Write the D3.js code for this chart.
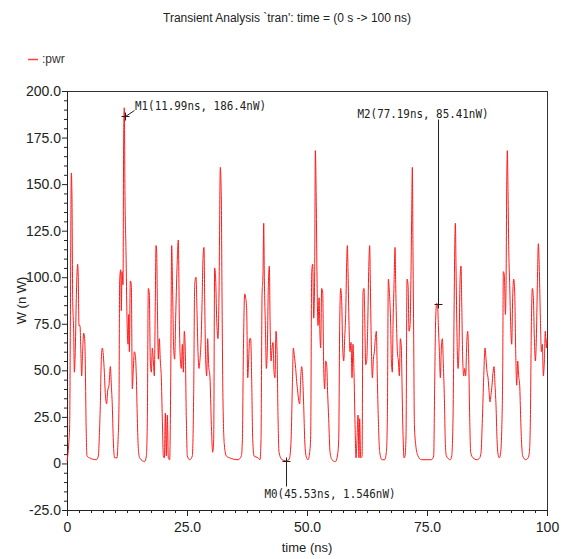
<!DOCTYPE html>
<html>
<head>
<meta charset="utf-8">
<script src="https://cdn.jsdelivr.net/npm/d3@7"></script>
<style>
    body { margin: 0; background: #fff; }
    svg { display: block; font-family: "Liberation Sans", Arial, sans-serif; }
</style>
</head>
<body>
<svg></svg>
<script>
// waveform :pwr (time in ns, power in nW)
var times = [0.00,0.35,0.56,0.69,0.90,1.04,1.18,1.39,1.53,1.74,1.94,2.22,2.36,2.50,2.71,2.85,3.06,3.26,3.47,3.68,3.82,3.96,4.17,4.72,
    6.11,6.53,6.74,6.94,7.15,7.36,7.57,7.78,7.99,8.26,8.47,8.75,9.03,9.24,9.44,9.65,9.93,
    10.42,10.63,10.83,10.97,11.18,11.32,11.46,11.67,11.81,11.94,12.08,12.29,12.50,12.71,12.85,12.99,13.19,13.40,13.61,13.82,14.03,14.24,14.44,14.65,14.86,15.14,
    16.18,16.53,16.74,16.94,17.15,17.36,17.57,17.78,17.99,18.19,18.40,18.54,18.68,18.82,19.03,19.24,19.44,19.65,19.86,
    20.07,20.28,20.49,20.69,20.90,21.11,21.39,21.60,21.81,22.01,22.22,22.43,22.64,22.92,23.19,23.40,23.61,23.82,24.03,24.24,24.44,24.65,24.86,
    25.07,25.56,26.11,26.39,26.60,26.88,27.08,27.29,27.50,27.71,27.92,28.13,28.33,28.54,28.68,28.89,29.10,29.31,29.51,29.79,
    30.07,30.35,30.56,30.76,30.97,31.18,31.46,31.67,31.94,32.15,32.29,32.50,32.78,33.19,33.89,35.63,
    36.33,36.54,36.74,37.02,37.23,37.44,37.65,37.85,38.06,38.27,38.48,38.69,38.97,39.80,
    40.22,40.42,40.63,40.84,40.98,41.12,41.33,41.53,41.74,41.95,42.16,42.30,42.51,42.72,42.92,43.13,43.33,43.54,43.76,43.97,44.17,44.80,
    45.53,46.26,46.53,46.74,46.95,47.16,47.36,47.64,47.85,48.05,48.26,48.48,48.69,48.90,49.10,49.31,49.52,49.80,
    50.22,50.56,50.77,50.98,51.19,51.40,51.60,51.74,51.95,52.09,52.30,52.51,52.72,52.85,53.06,53.27,53.48,53.69,53.88,54.10,54.31,54.52,54.80,
    55.21,55.91,56.33,56.61,56.81,57.02,57.23,57.44,57.65,57.85,58.06,58.27,58.41,58.55,58.76,58.96,59.17,59.38,59.58,59.79,
    60.01,60.21,60.42,60.63,60.83,60.97,61.19,61.47,61.67,61.88,62.02,62.23,62.44,62.65,62.85,63.06,63.20,63.41,63.62,63.83,64.03,64.24,64.45,64.65,64.86,
    65.15,65.63,66.19,66.53,66.74,66.95,67.16,67.44,67.58,67.78,67.92,68.13,68.34,68.48,68.62,68.83,69.04,69.24,69.45,69.66,69.80,
    70.01,70.22,70.42,70.63,70.84,71.05,71.26,71.47,71.67,71.81,71.95,72.09,72.23,72.37,72.65,73.13,73.83,
    75.91,76.39,76.60,76.81,77.02,77.19,77.37,77.58,77.78,77.99,78.20,78.41,78.62,78.83,79.04,79.87,
    80.15,80.42,80.63,80.77,80.91,81.05,81.26,81.47,81.67,81.88,82.09,82.23,82.44,82.65,82.85,83.06,83.27,83.48,83.69,83.90,84.10,84.59,
    85.42,85.98,86.26,86.54,86.81,87.09,87.30,87.51,87.72,87.92,88.13,88.34,88.55,88.76,88.97,89.17,89.38,89.59,89.87,
    90.08,90.35,90.56,90.77,90.91,91.12,91.33,91.47,91.61,91.74,91.88,92.02,92.23,92.44,92.65,92.85,93.06,93.27,93.48,93.69,93.90,94.10,94.31,94.52,94.73,94.94,
    95.56,96.05,96.33,96.54,96.74,96.95,97.16,97.37,97.58,97.78,97.99,98.20,98.41,98.62,98.83,99.03,99.24,99.45,99.65,99.87,100];

var pwr = [1,10,21,71,156,142,89,71,49,62,89,107,98,74,74,64,47,60,70,67,53,24,4,3,
    2,4,15,31,56,62,58,49,37,32,39,42,52,42,31,12,3,
    3,12,31,98,104,82,103,96,177,191,144,114,78,64,80,60,98,96,40,51,60,58,47,24,8,3,
    1,4,24,94,91,55,49,62,55,47,87,117,114,87,56,67,55,46,24,
    4,3,27,4,26,3,2,42,117,92,62,56,78,105,120,78,56,51,64,49,71,60,24,
    4,2,4,37,96,100,82,60,51,56,65,85,110,116,89,56,47,67,53,46,
    21,6,13,105,99,78,67,91,159,142,92,33,10,4,3,2,
    4,13,58,91,89,82,46,56,67,67,44,13,4,3,
    2,13,89,103,129,98,74,51,62,96,106,78,55,62,65,49,46,71,60,24,6,2,
    1.5,2,6,17,42,62,58,51,44,39,34,32,46,52,46,31,13,4,
    2,6,15,103,107,78,103,168,135,99,74,89,67,62,94,92,51,40,55,53,37,24,6,
    2,1,4,13,74,94,87,62,55,67,80,108,117,103,74,60,65,46,64,49,
    21,3,13,26,3,24,3,4,92,94,80,53,55,74,103,117,96,62,46,56,60,67,71,46,24,
    6,2,2,6,24,99,92,74,55,49,74,96,116,96,78,60,55,47,67,62,42,
    15,3,4,15,99,96,71,74,103,134,159,110,67,21,10,4,2,
    2,4,42,78,86,85.4,74,60,46,62,67,53,35,10,4,2,
    4,24,78,114,129,105,67,51,62,98,106,87,56,47,51,47,64,71,56,24,6,3,
    2,3,6,24,46,62,56,49,46,39,33,37,42,49,52,42,31,13,4,
    3,6,17,49,103,101,80,96,150,168,146,117,96,74,64,89,99,92,60,42,55,47,42,24,10,4,
    2,3,6,24,74,94,89,67,55,67,96,118,103,78,60,64,47,55,71,62,67];

// markers
var markerNames = ["M0", "M1", "M2"];
var markerTimes = [45.53, 11.99, 77.19];
var markerValues = [1.546, 186.4, 85.41];

// axis ticks
var xTicks = [0, 25, 50, 75, 100];
var xTickLabels = ["0", "25.0", "50.0", "75.0", "100"];
var yTicks = [-25, 0, 25, 50, 75, 100, 125, 150, 175, 200];
var yTickLabels = ["-25.0", "0", "25.0", "50.0", "75.0", "100.0", "125.0", "150.0", "175.0", "200.0"];

var svgWidth = 566, svgHeight = 559;
var margin = {top: 91, left: 67, bottom: 49, right: 19};
var width = svgWidth - margin.left - margin.right;
var height = svgHeight - margin.top - margin.bottom;

var svg = d3.select("svg")
    .attr("width", svgWidth)
    .attr("height", svgHeight);

var x = d3.scaleLinear().domain([0, 100]).range([margin.left, margin.left + width]);
var y = d3.scaleLinear().domain([-25, 200]).range([margin.top + height, margin.top]);

// title + legend
svg.append("text")
    .attr("x", 287)
    .attr("y", 22)
    .attr("text-anchor", "middle")
    .attr("font-size", "12px")
    .attr("fill", "#222")
    .text("Transient Analysis `tran': time = (0 s -> 100 ns)");

svg.append("line")
    .attr("x1", 28).attr("x2", 38)
    .attr("y1", 59.5).attr("y2", 59.5)
    .attr("stroke", "#ff4040")
    .attr("stroke-width", 1.5);

svg.append("text")
    .attr("x", 42)
    .attr("y", 63)
    .attr("font-size", "12px")
    .attr("fill", "#333")
    .text(":pwr");

// frame (top + right)
svg.append("rect")
    .attr("x", margin.left + 0.5)
    .attr("y", margin.top + 0.5)
    .attr("width", width)
    .attr("height", height)
    .attr("fill", "none")
    .attr("stroke", "#333");

// minor ticks
var xMinor = d3.range(0, 100.01, 2.5).filter(function (d) { return xTicks.indexOf(d) < 0; });
var yMinor = d3.range(-25, 200.01, 5).filter(function (d) { return yTicks.indexOf(d) < 0; });

svg.append("g")
    .attr("transform", "translate(0," + (margin.top + height) + ")")
    .call(d3.axisBottom(x).tickValues(xMinor).tickSize(3).tickFormat(""))
    .select(".domain").remove();

svg.append("g")
    .attr("transform", "translate(" + margin.left + ",0)")
    .call(d3.axisLeft(y).tickValues(yMinor).tickSize(3).tickFormat(""))
    .select(".domain").remove();

// major axes
svg.append("g")
    .attr("transform", "translate(0," + (margin.top + height) + ")")
    .call(d3.axisBottom(x).tickValues(xTicks).tickSize(6).tickPadding(6)
        .tickFormat(function (d, i) { return xTickLabels[i]; }));

svg.append("g")
    .attr("transform", "translate(" + margin.left + ",0)")
    .call(d3.axisLeft(y).tickValues(yTicks).tickSize(5).tickPadding(1)
        .tickFormat(function (d, i) { return yTickLabels[i]; }));

svg.selectAll(".tick text")
    .attr("font-family", "\"Liberation Sans\", Arial, sans-serif")
    .attr("font-size", "14px")
    .attr("fill", "#222");
svg.selectAll(".tick line, .domain").attr("stroke", "#222");

// axis titles
svg.append("text")
    .attr("x", x(50))
    .attr("y", 552)
    .attr("text-anchor", "middle")
    .attr("font-size", "13px")
    .attr("fill", "#222")
    .text("time (ns)");

svg.append("text")
    .attr("transform", "translate(26," + y(87.5) + ") rotate(-90)")
    .attr("text-anchor", "middle")
    .attr("font-size", "13px")
    .attr("fill", "#222")
    .text("W (n W)");

// the waveform
var line = d3.line()
    .x(function (i) { return x(times[i]); })
    .y(function (i) { return y(pwr[i]); })
    .curve(d3.curveMonotoneX);

svg.append("path")
    .datum(d3.range(times.length))
    .attr("fill", "none")
    .attr("stroke", "#ff1a1a")
    .attr("stroke-width", 1)
    .attr("stroke-linejoin", "round")
    .attr("d", line);

// markers: crosshair, leader and label
var labelOffset = {M0: [-22, 36.5, 25], M1: [9.5, -7, 0], M2: [-81, -186.5, -185]};

markerNames.forEach(function (name, i) {
    var cx = Math.round(x(markerTimes[i])) + 0.5;
    var cy = Math.round(y(markerValues[i])) + 0.5;
    var off = labelOffset[name];
    var g = svg.append("g").attr("stroke", "#222").attr("stroke-width", 1);

    g.append("line").attr("x1", cx - 4).attr("x2", cx + 4).attr("y1", cy).attr("y2", cy);
    g.append("line").attr("x1", cx).attr("x2", cx).attr("y1", cy - 4).attr("y2", cy + 4);

    if (name == "M1") {
        g.append("line").attr("x1", cx).attr("y1", cy).attr("x2", cx + 9).attr("y2", cy - 6);
    } else {
        g.append("line").attr("x1", cx).attr("y1", cy).attr("x2", cx).attr("y2", cy + off[2]);
    }

    svg.append("text")
        .attr("x", cx + off[0])
        .attr("y", cy + off[1])
        .attr("font-family", "\"DejaVu Sans Mono\", monospace")
        .attr("font-size", "13px")
        .attr("textLength", 131)
        .attr("lengthAdjust", "spacingAndGlyphs")
        .attr("fill", "#222")
        .text(name + "(" + markerTimes[i] + "ns, " + markerValues[i] + "nW)");
});
</script>
</body>
</html>
